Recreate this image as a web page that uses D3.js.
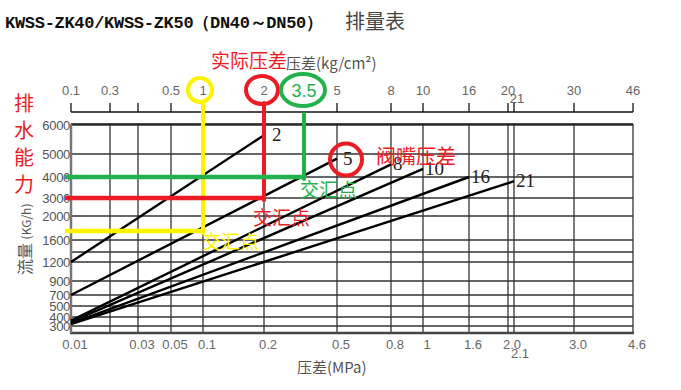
<!DOCTYPE html>
<html>
<head>
<meta charset="utf-8">
<script src="https://cdn.jsdelivr.net/npm/d3@7"></script>
<style>
  body { margin: 0; background: #fff; }
  svg { display: block; }
</style>
</head>
<body>
<div class="svgContainer"></div>
<script>
// bottom axis (MPa) grid values and labels
const mpaGrid = [0.01, 0.02, 0.03, 0.05, 0.1, 0.2, 0.5, 0.8, 1, 1.6, 2.0, 2.1, 3.0, 4.6];
const mpaLabels = ['0.01', '', '0.03', '0.05', '0.1', '0.2', '0.5', '0.8', '1', '1.6', '2.0', '2.1', '3.0', '4.6'];
// top axis (kg/cm²)
const kgTicks = [0.1, 0.3, 0.4, 0.5, 1, 2, 3.5, 5, 8, 10, 16, 20, 21, 30, 46];
const kgLabels = ['0.1', '0.3', '', '0.5', '1', '2', '', '5', '8', '10', '16', '20', '21', '30', '46'];
// flow axis (KG/h)
const flowTicks = [300, 400, 500, 700, 900, 1200, 1400, 1600, 2000, 3000, 4000, 5000, 6000];
const flowLabels = ['300', '400', '500', '700', '900', '1200', '', '1600', '2000', '3000', '4000', '5000', '6000'];

// valve seat pressure lines
const seriesNames = ['2', '5', '8', '10', '16', '21'];
const startPressure = [0.01, 0.01, 0.01, 0.01, 0.01, 0.01];
const endPressure = [0.2, 0.5, 0.8, 1.0, 1.6, 2.1];
const startFlow = [1200, 700, 360, 345, 330, 320];
const endFlow = [5650, 4800, 4550, 4350, 4000, 3800];

// reading examples: pressure (kg/cm²) -> flow
const markKg = [1, 2, 3.5];
const markFlow = [1750, 3000, 4000];
const markColor = ['#fff200', '#ed1c24', '#22b14c'];

const width = 681, height = 390;
const plotTop = 124, plotBottom = 333, plotLeft = 71, plotRight = 633;

// the chart paper is not log scaled, so both axes are piecewise
let xPx = [71, 110, 138, 171, 203, 264, 337, 391, 423, 469, 508, 514, 574, 633];
let xTopPx = [71, 110, 138, 171, 203, 264, 304, 337, 391, 423, 469, 508, 514, 574, 633];
let yPx = [326, 317, 306, 295, 281, 262, 252, 240, 216, 198, 177, 154, 125];

const x = d3.scaleLinear().domain(mpaGrid).range(xPx);
const xTop = d3.scaleLinear().domain(kgTicks).range(xTopPx);
const y = d3.scaleLinear().domain(flowTicks).range(yPx);

const sans = '"Liberation Sans", Arial, sans-serif';
const cjk = '"Noto Sans CJK SC", sans-serif';
const serif = '"Liberation Serif", "Times New Roman", serif';

let svg = d3.select('.svgContainer')
    .append('svg')
    .attr('width', width)
    .attr('height', height)
    .attr('viewBox', `0 0 ${width} ${height}`);

svg.append('rect').attr('width', width).attr('height', height).attr('fill', '#fff');

// title
svg.append('text')
    .attr('x', 5).attr('y', 28)
    .attr('font-family', '"Liberation Mono", "DejaVu Sans Mono", monospace')
    .attr('font-weight', 'bold')
    .attr('font-size', 17)
    .attr('textLength', 318)
    .attr('fill', '#111')
    .text('KWSS-ZK40/KWSS-ZK50（DN40～DN50）');
svg.append('text')
    .attr('x', 345).attr('y', 29)
    .attr('font-family', cjk)
    .attr('font-size', 20)
    .attr('fill', '#444')
    .text('排量表');

// grid
const grid = svg.append('g');
grid.selectAll('.hgrid')
    .data(flowTicks)
    .enter().append('line')
    .attr('x1', plotLeft).attr('x2', plotRight)
    .attr('y1', d => y(d)).attr('y2', d => y(d))
    .attr('stroke', '#333').attr('stroke-width', 1.3);
grid.selectAll('.vgrid')
    .data(mpaGrid)
    .enter().append('line')
    .attr('x1', d => x(d)).attr('x2', d => x(d))
    .attr('y1', plotTop).attr('y2', plotBottom)
    .attr('stroke', '#333').attr('stroke-width', 1.3);

grid.append('line')
    .attr('x1', plotLeft).attr('x2', plotRight)
    .attr('y1', plotTop).attr('y2', plotTop)
    .attr('stroke', '#111').attr('stroke-width', 1.5);
grid.append('line')
    .attr('x1', plotLeft - 1).attr('x2', plotRight + 1)
    .attr('y1', plotBottom).attr('y2', plotBottom)
    .attr('stroke', '#444').attr('stroke-width', 2.5);
grid.append('line')
    .attr('x1', plotLeft).attr('x2', plotLeft)
    .attr('y1', plotTop).attr('y2', plotBottom)
    .attr('stroke', '#777').attr('stroke-width', 2.5);

// top axis
const topAxis = svg.append('g');
topAxis.append('line')
    .attr('x1', plotLeft).attr('x2', plotRight)
    .attr('y1', 112).attr('y2', 112)
    .attr('stroke', '#111').attr('stroke-width', 1.5);
topAxis.selectAll('.ttick')
    .data(kgTicks.filter(d => d !== 3.5))
    .enter().append('line')
    .attr('x1', d => xTop(d)).attr('x2', d => xTop(d))
    .attr('y1', 103).attr('y2', 112)
    .attr('stroke', '#111').attr('stroke-width', 1.3);
topAxis.selectAll('.tlabel')
    .data(kgTicks)
    .enter().append('text')
    .attr('x', d => xTop(d))
    .attr('y', d => d === 21 ? 103 : 95)
    .attr('dx', d => d === 21 ? 3 : 0)
    .attr('text-anchor', 'middle')
    .attr('font-family', sans)
    .attr('font-size', 13)
    .attr('fill', '#666')
    .text((d, i) => kgLabels[i]);

// bottom axis labels
svg.append('g').selectAll('text')
    .data(mpaGrid)
    .enter().append('text')
    .attr('x', d => x(d) + 4)
    .attr('y', d => d === 2.1 ? 358 : 349)
    .attr('dx', d => d === 2.1 ? 2 : 0)
    .attr('text-anchor', 'middle')
    .attr('font-family', sans)
    .attr('font-size', 13)
    .attr('fill', '#666')
    .text((d, i) => mpaLabels[i]);

// left axis labels
svg.append('g').selectAll('text')
    .data(flowTicks)
    .enter().append('text')
    .attr('x', plotLeft - 1)
    .attr('y', d => y(d) + 5)
    .attr('text-anchor', 'end')
    .attr('font-family', sans)
    .attr('font-size', 13)
    .attr('letter-spacing', -0.3)
    .attr('fill', '#555')
    .text((d, i) => flowLabels[i]);

// axis titles
svg.append('text')
    .attr('x', 297).attr('y', 373)
    .attr('font-family', cjk).attr('font-size', 15).attr('fill', '#555')
    .text('压差(MPa)');
svg.append('text')
    .attr('x', 286).attr('y', 69)
    .attr('font-family', cjk).attr('font-size', 15).attr('fill', '#555')
    .text('压差(kg/cm²)');
let yTitle = svg.append('text')
    .attr('transform', 'translate(31,275) rotate(-90)')
    .attr('font-family', cjk).attr('fill', '#555');
yTitle.append('tspan').attr('font-size', 16).text('流量 ');
yTitle.append('tspan').attr('font-size', 12).text('(KG/h)');

// data lines
const lines = seriesNames.map((name, i) => ({
    name: name,
    x1: startPressure[i], y1: startFlow[i],
    x2: endPressure[i], y2: endFlow[i]
}));

svg.append('g').selectAll('line')
    .data(lines)
    .enter().append('line')
    .attr('x1', d => x(d.x1)).attr('y1', d => y(d.y1))
    .attr('x2', d => x(d.x2)).attr('y2', d => y(d.y2))
    .attr('stroke', '#000').attr('stroke-width', 2.4);

svg.append('g').selectAll('text')
    .data(lines)
    .enter().append('text')
    .attr('x', d => x(d.x2) + (d.name === '2' ? 8 : d.name === '5' ? 6 : 2))
    .attr('y', d => y(d.y2) + 6)
    .attr('font-family', serif)
    .attr('font-size', 19)
    .attr('fill', '#222')
    .text(d => d.name);

// reading guides
const marks = markKg.map((kg, i) => ({ kg: kg, flow: markFlow[i], color: markColor[i] }));
const guides = svg.append('g');
guides.selectAll('.vg')
    .data(marks)
    .enter().append('line')
    .attr('x1', d => xTop(d.kg)).attr('x2', d => xTop(d.kg))
    .attr('y1', d => d.kg === 3.5 ? 114 : 103)
    .attr('y2', d => y(d.flow) + 2)
    .attr('stroke', d => d.color).attr('stroke-width', 4)
    .attr('stroke-linecap', 'round');
guides.selectAll('.hg')
    .data(marks)
    .enter().append('line')
    .attr('x1', 65).attr('x2', d => xTop(d.kg) + 2)
    .attr('y1', d => y(d.flow)).attr('y2', d => y(d.flow))
    .attr('stroke', d => d.color).attr('stroke-width', 4.5);

// circles round the read values
guides.selectAll('ellipse')
    .data(marks)
    .enter().append('ellipse')
    .attr('cx', d => xTop(d.kg) - (d.kg === 2 ? 2 : d.kg === 1 ? 3 : 1))
    .attr('cy', 90)
    .attr('rx', d => d.kg === 1 ? 12 : d.kg === 2 ? 16 : 22)
    .attr('ry', d => d.kg === 1 ? 12 : d.kg === 2 ? 14 : 16)
    .attr('fill', 'none')
    .attr('stroke', d => d.color).attr('stroke-width', 4);

svg.append('text')
    .attr('x', xTop(3.5)).attr('y', 97)
    .attr('text-anchor', 'middle')
    .attr('font-family', sans).attr('font-size', 18)
    .attr('fill', '#22b14c')
    .text('3.5');

guides.selectAll('.meet')
    .data(marks)
    .enter().append('text')
    .attr('x', d => xTop(d.kg) - (d.kg === 1 ? 1 : d.kg === 2 ? 11 : 4))
    .attr('y', d => y(d.flow) + (d.kg === 1 ? 18 : d.kg === 2 ? 27 : 20))
    .attr('font-family', cjk).attr('font-size', 19)
    .attr('fill', d => d.color)
    .text('交汇点');

// valve seat circle (series "5")
svg.append('circle')
    .attr('cx', x(0.5) + 9).attr('cy', y(4800) + 1)
    .attr('r', 16)
    .attr('fill', 'none')
    .attr('stroke', '#ed1c24').attr('stroke-width', 4);

svg.append('text')
    .attr('x', 376).attr('y', 164)
    .attr('font-family', cjk).attr('font-size', 20)
    .attr('fill', '#ed1c24')
    .text('阀嘴压差');

svg.append('text')
    .attr('x', 211).attr('y', 68)
    .attr('font-family', cjk).attr('font-size', 19)
    .attr('fill', '#ed1c24')
    .text('实际压差');

// left side title
svg.append('g').selectAll('text')
    .data(['排', '水', '能', '力'])
    .enter().append('text')
    .attr('x', 24)
    .attr('y', (d, i) => 111 + i * 27)
    .attr('text-anchor', 'middle')
    .attr('font-family', cjk).attr('font-size', 20)
    .attr('fill', '#ed1c24')
    .text(d => d);
</script>
</body>
</html>
